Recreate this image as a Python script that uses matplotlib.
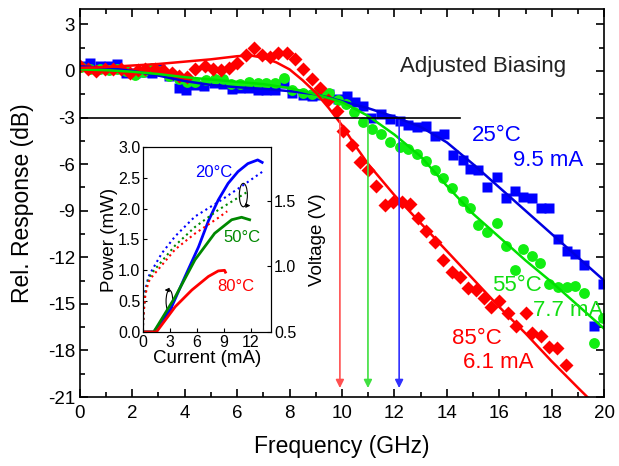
import matplotlib
matplotlib.use("Agg")
import matplotlib.pyplot as plt
from matplotlib.patches import Ellipse
from matplotlib.ticker import MultipleLocator

plt.rcParams["font.family"] = ["Liberation Sans", "DejaVu Sans"]
plt.rcParams["axes.unicode_minus"] = False

# ---- main plot data (GHz, dB) ----
f_blue = [0.05, 0.4, 0.75, 1.1, 1.4, 1.75, 2.1, 2.4, 2.75, 3.05, 3.4, 3.8, 4.05, 4.4, 4.75,
          5.1, 5.45, 5.8, 6.1, 6.45, 6.8, 7.1, 7.45, 7.8, 8.1, 8.5, 8.85, 9.2, 9.5, 9.85,
          10.2, 10.5, 10.8, 11.1, 11.5, 11.85, 12.2, 12.5, 12.85, 13.2, 13.55, 13.9, 14.25,
          14.6, 14.9, 15.2, 15.55, 15.9, 16.25, 16.6, 16.9, 17.25, 17.6, 17.9, 18.25, 18.6,
          18.9, 19.25, 19.6, 19.95]
r_blue = [0.3, 0.5, 0.3, 0.35, 0.45, -0.1, -0.1, -0.05, -0.15, 0.15, -0.35, -1.1, -1.2, -0.9,
          -0.95, -0.8, -0.85, -1.15, -1.1, -1.1, -1.25, -1.25, -1.25, -0.8, -1.45, -1.55, -1.6,
          -1.55, -1.5, -1.8, -1.6, -2.0, -2.25, -3.0, -2.75, -3.1, -3.25, -3.5, -3.6, -3.55,
          -4.2, -4.05, -5.4, -5.75, -6.3, -6.35, -7.5, -6.8, -8.15, -7.7, -8.1, -8.2, -8.8,
          -8.85, -10.8, -11.6, -11.8, -12.5, -16.4, -13.75]

f_green = [0.05, 0.4, 0.75, 1.1, 1.4, 1.75, 2.1, 2.4, 2.75, 3.05, 3.4, 3.8, 4.1, 4.4, 4.8,
           5.15, 5.45, 5.75, 6.1, 6.45, 6.8, 7.1, 7.45, 7.8, 8.1, 8.5, 8.85, 9.2, 9.5, 9.85,
           10.15, 10.45, 10.8, 11.15, 11.5, 11.85, 12.2, 12.5, 12.85, 13.2, 13.55, 13.85,
           14.2, 14.6, 14.9, 15.2, 15.55, 15.9, 16.25, 16.6, 16.9, 17.25, 17.55, 17.9, 18.25,
           18.6, 18.9, 19.25, 19.6, 19.95]
r_green = [0.25, 0.15, 0.1, 0.05, 0.1, 0.0, -0.25, -0.05, 0.2, 0.0, -0.3, -0.5, -0.7, -0.7,
           -0.55, -0.5, -0.5, -0.85, -0.85, -0.7, -0.8, -0.8, -0.8, -0.45, -1.25, -1.45, -1.5,
           -1.5, -1.45, -1.85, -2.1, -2.65, -3.3, -3.75, -4.05, -4.6, -4.9, -5.05, -5.35, -5.8,
           -6.4, -6.9, -7.55, -8.4, -8.8, -9.9, -10.4, -9.8, -11.3, -12.8, -11.45, -11.9,
           -12.4, -13.7, -13.9, -13.9, -13.85, -14.3, -17.5, -15.9]

f_red = [0.0, 0.3, 0.6, 0.95, 1.27, 1.57, 1.9, 2.2, 2.5, 2.85, 3.17, 3.5, 3.8, 4.1, 4.4, 4.77,
         5.07, 5.4, 5.7, 6.0, 6.35, 6.65, 6.95, 7.25, 7.55, 7.9, 8.2, 8.5, 8.85, 9.15, 9.45,
         9.8, 10.05, 10.4, 10.7, 11.0, 11.3, 11.65, 11.95, 12.3, 12.6, 12.9, 13.2, 13.55,
         13.85, 14.2, 14.5, 14.8, 15.1, 15.4, 15.7, 16.0, 16.35, 16.65, 17.0, 17.25, 17.6,
         17.9, 18.2, 18.55]
r_red = [0.3, 0.15, 0.0, 0.15, 0.15, 0.15, -0.1, 0.05, 0.15, 0.1, 0.05, -0.15, -0.3, -0.4,
         0.15, 0.3, 0.15, 0.05, 0.2, 0.5, 1.0, 1.45, 1.05, 0.9, 1.15, 1.15, 0.8, 0.15, -0.5,
         -1.1, -1.9, -2.6, -3.85, -4.8, -5.85, -6.4, -7.4, -8.65, -8.45, -8.45, -8.55, -9.5,
         -10.3, -11.0, -12.2, -12.95, -13.3, -14.0, -14.1, -14.65, -15.2, -14.8, -15.6,
         -16.4, -15.6, -16.85, -17.1, -17.8, -17.85, -18.95]

# fitted response curves
fit_f_blue = [0, 1, 2, 3, 4, 5, 6, 7, 8, 9, 10, 11, 12, 13, 14, 15, 16, 17, 18, 19, 20]
fit_r_blue = [0.3, 0.2, 0.0, -0.3, -0.65, -0.9, -1.05, -1.15, -1.3, -1.5, -1.95, -2.4,
              -2.95, -3.6, -4.6, -6.0, -7.5, -9.0, -10.5, -12.0, -13.5]
fit_f_green = [0, 1, 2, 3, 4, 5, 6, 7, 8, 9, 10, 11, 12, 13, 14, 15, 16, 17, 18, 19, 20]
fit_r_green = [0.1, 0.05, -0.05, -0.2, -0.4, -0.55, -0.7, -0.85, -1.1, -1.5, -2.0, -2.9,
               -4.1, -5.5, -7.4, -9.2, -10.7, -12.2, -13.6, -15.1, -16.6]
fit_f_red = [0, 1, 2, 3, 4, 5, 5.5, 6, 6.5, 7, 7.5, 8, 8.5, 9, 9.5, 10, 10.5, 11, 11.5, 12,
             13, 14, 15, 16, 17, 18, 19, 19.6]
fit_r_red = [0.2, 0.25, 0.35, 0.45, 0.6, 0.75, 0.85, 0.95, 1.0, 0.85, 0.55, 0.1, -0.6, -1.4,
             -2.4, -3.5, -4.8, -6.0, -7.0, -8.0, -9.8, -11.6, -13.4, -15.2, -16.9, -18.7,
             -20.4, -21.4]

# 3 dB frequencies
f3db = [9.92, 10.99, 12.18]
f3db_colors = ["#ff5050", "#40e040", "#3030ff"]

# ---- inset data (mA, mW / V) ----
i_p20 = [0.0, 1.2, 3.05, 4.7, 6.2, 7.3, 8.4, 9.5, 10.6, 11.7, 12.8, 13.3]
p_20 = [0.0, 0.0, 0.36, 0.9, 1.38, 1.8, 2.14, 2.41, 2.6, 2.73, 2.79, 2.75]
i_p50 = [0.0, 1.2, 3.6, 5.8, 8.0, 9.9, 11.0, 11.9]
p_50 = [0.0, 0.0, 0.57, 1.17, 1.6, 1.82, 1.86, 1.82]
i_p80 = [0.0, 1.5, 3.6, 5.45, 7.3, 8.4, 9.1, 9.2]
p_80 = [0.0, 0.0, 0.41, 0.68, 0.9, 0.99, 1.0, 0.97]

i_v20 = [0.0, 0.07, 0.26, 0.6, 1.0, 2.1, 3.6, 5.8, 8.4, 11.0, 13.3]
v_20 = [0.55, 0.67, 0.82, 0.92, 0.97, 1.1, 1.23, 1.38, 1.49, 1.61, 1.72]
i_v50 = [0.0, 0.07, 0.26, 0.6, 1.0, 3.6, 5.8, 8.4, 11.7]
v_50 = [0.55, 0.65, 0.8, 0.9, 0.95, 1.16, 1.3, 1.43, 1.57]
i_v80 = [0.0, 0.07, 0.26, 0.6, 1.0, 3.6, 5.8, 8.4, 9.4]
v_80 = [0.55, 0.64, 0.78, 0.88, 0.92, 1.13, 1.25, 1.37, 1.42]

fig = plt.figure(figsize=(6.19, 4.66), dpi=100)
ax = fig.add_axes([0.129, 0.148, 0.847, 0.833])

ax.plot(f_blue, r_blue, "s", color="#0000ff", ms=7, mec="none")
ax.plot(f_green, r_green, "o", color="#11ee11", ms=7.8, mec="none")
ax.plot(f_red, r_red, "D", color="#ff0000", ms=7, mec="none")
ax.plot(fit_f_blue, fit_r_blue, "-", color="#0000e0", lw=1.8)
ax.plot(fit_f_green, fit_r_green, "-", color="#00e000", lw=1.8)
ax.plot(fit_f_red, fit_r_red, "-", color="#ff0000", lw=1.8)

ax.plot([0, 14.5], [-3, -3], color="black", lw=1.2)
for f, c in zip(f3db, f3db_colors):
    ax.annotate("", xy=(f, -20.6), xytext=(f, -3),
                arrowprops=dict(arrowstyle="-|>", color=c, lw=1.2, mutation_scale=12))

ax.set_xlim(0, 20)
ax.set_ylim(-21, 4)
ax.xaxis.set_major_locator(MultipleLocator(2))
ax.xaxis.set_minor_locator(MultipleLocator(1))
ax.yaxis.set_major_locator(MultipleLocator(3))
ax.yaxis.set_minor_locator(MultipleLocator(1.5))
ax.tick_params(which="both", direction="in", top=True, right=True, width=1.2)
ax.tick_params(which="major", length=6, labelsize=13.5)
ax.tick_params(which="minor", length=3.5)
ax.tick_params(axis="x", pad=6)
for s in ax.spines.values():
    s.set_linewidth(1.2)
ax.set_xlabel("Frequency (GHz)", fontsize=16.5, labelpad=9)
ax.set_ylabel("Rel. Response (dB)", fontsize=16.5, labelpad=10)

ax.text(12.2, 0.3, "Adjusted Biasing", fontsize=16, color="#222222", va="center")
ax.text(14.96, -4.15, "25°C", fontsize=16, color="#0000ff", va="center")
ax.text(16.53, -5.75, "9.5 mA", fontsize=16, color="#0000ff", va="center")
ax.text(15.73, -13.8, "55°C", fontsize=16, color="#11dd11", va="center")
ax.text(17.3, -15.4, "7.7 mA", fontsize=16, color="#11dd11", va="center")
ax.text(14.2, -17.2, "85°C", fontsize=16, color="#ff0000", va="center")
ax.text(14.62, -18.8, "6.1 mA", fontsize=16, color="#ff0000", va="center")

# ---- inset ----
ins = fig.add_axes([0.231, 0.2876, 0.207, 0.397])
ins.plot(i_p20, p_20, color="#0000ff", lw=2)
ins.plot(i_p50, p_50, color="#008800", lw=2)
ins.plot(i_p80, p_80, color="#ff0000", lw=2)
ins.set_xlim(0, 14.3)
ins.set_ylim(0, 3.0)
ins.xaxis.set_major_locator(MultipleLocator(3))
ins.yaxis.set_major_locator(MultipleLocator(0.5))
ins.tick_params(direction="in", labelsize=11.5, length=3, pad=2)
ins.set_xlabel("Current (mA)", fontsize=13.5, labelpad=0)
ins.set_ylabel("Power (mW)", fontsize=13.5, labelpad=0)
ins.text(7.9, 2.59, "20°C", fontsize=12, color="#0000ff", ha="center", va="center")
ins.text(11.1, 1.54, "50°C", fontsize=12, color="#008800", ha="center", va="center")
ins.text(10.4, 0.73, "80°C", fontsize=12, color="#ff0000", ha="center", va="center")

ins.add_patch(Ellipse((11.2, 2.22), 0.9, 0.38, fill=False, lw=0.8, color="black"))
ins.annotate("", xy=(12.3, 2.05), xytext=(11.3, 2.05),
             arrowprops=dict(arrowstyle="-|>", lw=0.8, color="black", mutation_scale=6))
ins.add_patch(Ellipse((2.95, 0.5), 0.75, 0.36, fill=False, lw=0.8, color="black"))
ins.annotate("", xy=(2.1, 0.68), xytext=(3.0, 0.68),
             arrowprops=dict(arrowstyle="-|>", lw=0.8, color="black", mutation_scale=6))

ins2 = ins.twinx()
ins2.plot(i_v20, v_20, ":", color="#0000ff", lw=1.5)
ins2.plot(i_v50, v_50, ":", color="#008800", lw=1.5)
ins2.plot(i_v80, v_80, ":", color="#ff0000", lw=1.5)
ins2.set_ylim(0.5, 1.91)
ins2.yaxis.set_major_locator(MultipleLocator(0.5))
ins2.tick_params(direction="in", labelsize=11.5, length=3, pad=2)
ins2.set_ylabel("Voltage (V)", fontsize=13.5, labelpad=9)

fig.savefig("out.png", dpi=100)
